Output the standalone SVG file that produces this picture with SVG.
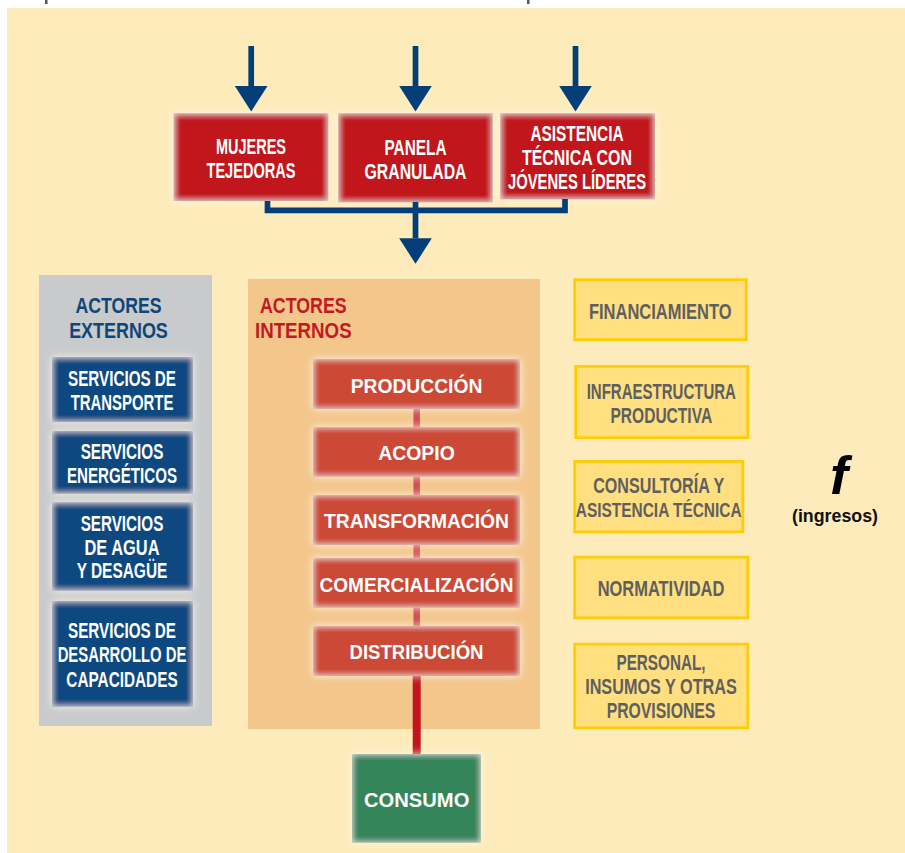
<svg xmlns="http://www.w3.org/2000/svg" width="905" height="853" viewBox="0 0 905 853">
<defs>
<style>
.cn{font-family:"Liberation Sans Narrow","Liberation Sans",Arial,sans-serif;font-weight:bold;font-size:22px;text-anchor:middle}
.rg{font-family:"Liberation Sans",Arial,sans-serif;font-weight:bold;font-size:21px;text-anchor:middle}
.w{fill:#ffffff}
.gy{fill:#5e5f61}
.red1{fill:#c1161f}
.red2{fill:#cc4a36}
.blue{fill:#0c4a80}
.green{fill:#34855a}
.ybox{fill:#ffdf80;stroke:#ffcc06;stroke-width:2.8}
.arrow{fill:none;stroke:#023f78;stroke-width:5.7}
</style>
<filter id="soft" x="-20%" y="-40%" width="140%" height="180%">
<feGaussianBlur in="SourceAlpha" stdDeviation="4" result="blur"/>
<feFlood flood-color="#fffaf0" flood-opacity="0.85"/>
<feComposite in2="blur" operator="in" result="halo"/>
<feGaussianBlur in="SourceAlpha" stdDeviation="3" result="b2"/>
<feComposite in="SourceAlpha" in2="b2" operator="out" result="edge"/>
<feFlood flood-color="#ffffff" flood-opacity="0.75"/>
<feComposite in2="edge" operator="in" result="inner"/>
<feMerge><feMergeNode in="halo"/><feMergeNode in="SourceGraphic"/><feMergeNode in="inner"/></feMerge>
</filter>
<marker id="ah" markerUnits="userSpaceOnUse" markerWidth="26" markerHeight="33" viewBox="0 -16.5 26 33" refX="0" refY="0" orient="auto">
<path d="M0,-16.3 L25.5,0 L0,16.3Z" fill="#023f78"/>
</marker>
</defs>

<rect x="0" y="0" width="905" height="853" fill="#ffffff"/>
<rect x="7" y="8" width="898" height="845" fill="#feebbb"/>
<rect x="45" y="0" width="2.5" height="4" fill="#555555"/>
<rect x="527" y="0" width="2.5" height="4" fill="#555555"/>

<g id="panel-externos">
<rect x="39" y="275" width="173" height="451" fill="#c8cacc"/>
<text class="cn" x="118.5" y="313" fill="#0f4678" textLength="86" lengthAdjust="spacingAndGlyphs">ACTORES</text>
<text class="cn" x="118.5" y="338.3" fill="#0f4678" textLength="98.7" lengthAdjust="spacingAndGlyphs">EXTERNOS</text>
</g>

<g id="panel-internos">
<rect x="248" y="279" width="292" height="450" fill="#f3c68c"/>
<text class="cn" x="303.3" y="313" fill="#c31a22" textLength="86.7" lengthAdjust="spacingAndGlyphs">ACTORES</text>
<text class="cn" x="303.3" y="338.3" fill="#c31a22" textLength="96.7" lengthAdjust="spacingAndGlyphs">INTERNOS</text>
</g>

<g id="mujeres">
<rect class="red1" x="173.7" y="113.3" width="154.6" height="87.7" filter="url(#soft)"/>
<text class="cn w" x="251" y="154" textLength="70" lengthAdjust="spacingAndGlyphs">MUJERES</text>
<text class="cn w" x="251" y="177.7" textLength="89" lengthAdjust="spacingAndGlyphs">TEJEDORAS</text>
</g>
<g id="panela">
<rect class="red1" x="338.3" y="113.3" width="154.4" height="89" filter="url(#soft)"/>
<text class="cn w" x="415.5" y="155" textLength="62" lengthAdjust="spacingAndGlyphs">PANELA</text>
<text class="cn w" x="415.5" y="179" textLength="102" lengthAdjust="spacingAndGlyphs">GRANULADA</text>
</g>
<g id="asistencia">
<rect class="red1" x="500.3" y="113.3" width="154.7" height="86" filter="url(#soft)"/>
<text class="cn w" x="577" y="140.7" textLength="93" lengthAdjust="spacingAndGlyphs">ASISTENCIA</text>
<text class="cn w" x="577" y="165" textLength="110" lengthAdjust="spacingAndGlyphs">TÉCNICA CON</text>
<text class="cn w" x="577" y="188.7" textLength="138" lengthAdjust="spacingAndGlyphs">JÓVENES LÍDERES</text>
</g>

<g id="transporte">
<rect class="blue" x="52" y="357" width="141" height="65" filter="url(#soft)"/>
<text class="cn w" x="122" y="386" textLength="108" lengthAdjust="spacingAndGlyphs">SERVICIOS DE</text>
<text class="cn w" x="122" y="410" textLength="102.7" lengthAdjust="spacingAndGlyphs">TRANSPORTE</text>
</g>
<g id="energeticos">
<rect class="blue" x="52" y="431" width="141" height="62.7" filter="url(#soft)"/>
<text class="cn w" x="122" y="459.3" textLength="82.7" lengthAdjust="spacingAndGlyphs">SERVICIOS</text>
<text class="cn w" x="122" y="482.7" textLength="110" lengthAdjust="spacingAndGlyphs">ENERGÉTICOS</text>
</g>
<g id="agua">
<rect class="blue" x="52" y="502.3" width="141" height="88.4" filter="url(#soft)"/>
<text class="cn w" x="122" y="530.7" textLength="82.7" lengthAdjust="spacingAndGlyphs">SERVICIOS</text>
<text class="cn w" x="122" y="555" textLength="75" lengthAdjust="spacingAndGlyphs">DE AGUA</text>
<text class="cn w" x="122" y="578.3" textLength="90.7" lengthAdjust="spacingAndGlyphs">Y DESAGÜE</text>
</g>
<g id="capacidades">
<rect class="blue" x="52" y="601" width="141" height="105.7" filter="url(#soft)"/>
<text class="cn w" x="122" y="638.3" textLength="108" lengthAdjust="spacingAndGlyphs">SERVICIOS DE</text>
<text class="cn w" x="122" y="662.3" textLength="128.7" lengthAdjust="spacingAndGlyphs">DESARROLLO DE</text>
<text class="cn w" x="122" y="686.7" textLength="111.3" lengthAdjust="spacingAndGlyphs">CAPACIDADES</text>
</g>

<g id="conn-process">
<line x1="416.7" y1="405" x2="416.7" y2="430" stroke="#d24c55" stroke-width="6.5"/>
<line x1="416.7" y1="472" x2="416.7" y2="498" stroke="#d24c55" stroke-width="6.5"/>
<line x1="416.7" y1="541" x2="416.7" y2="561" stroke="#d24c55" stroke-width="6.5"/>
<line x1="416.7" y1="603" x2="416.7" y2="629" stroke="#d24c55" stroke-width="6.5"/>
<line x1="416.7" y1="672" x2="416.7" y2="757" stroke="#c1161f" stroke-width="8"/>
</g>

<g id="produccion">
<rect class="red2" x="313" y="359" width="207" height="50" filter="url(#soft)"/>
<text class="rg w" x="416.5" y="393.3" textLength="131.7" lengthAdjust="spacingAndGlyphs">PRODUCCIÓN</text>
</g>
<g id="acopio">
<rect class="red2" x="313" y="427" width="207" height="49.7" filter="url(#soft)"/>
<text class="rg w" x="416.5" y="460" textLength="76.7" lengthAdjust="spacingAndGlyphs">ACOPIO</text>
</g>
<g id="transformacion">
<rect class="red2" x="313" y="495" width="207" height="50" filter="url(#soft)"/>
<text class="rg w" x="416.5" y="528.3" textLength="185" lengthAdjust="spacingAndGlyphs">TRANSFORMACIÓN</text>
</g>
<g id="comercializacion">
<rect class="red2" x="313" y="558" width="207" height="49.7" filter="url(#soft)"/>
<text class="rg w" x="416.5" y="591.7" textLength="194" lengthAdjust="spacingAndGlyphs">COMERCIALIZACIÓN</text>
</g>
<g id="distribucion">
<rect class="red2" x="313" y="626" width="207" height="50" filter="url(#soft)"/>
<text class="rg w" x="416.5" y="659.3" textLength="134" lengthAdjust="spacingAndGlyphs">DISTRIBUCIÓN</text>
</g>
<g id="consumo">
<rect class="green" x="352" y="754" width="129" height="88.7" filter="url(#soft)"/>
<text class="rg w" x="416.7" y="806.7" textLength="105.3" lengthAdjust="spacingAndGlyphs">CONSUMO</text>
</g>

<g id="financiamiento">
<rect class="ybox" x="574.7" y="279.7" width="171.6" height="60"/>
<text class="cn gy" x="660.3" y="319.3" textLength="142.7" lengthAdjust="spacingAndGlyphs">FINANCIAMIENTO</text>
</g>
<g id="infraestructura">
<rect class="ybox" x="575.7" y="366.4" width="172.2" height="71.2"/>
<text class="cn gy" x="661.3" y="399" textLength="149.3" lengthAdjust="spacingAndGlyphs">INFRAESTRUCTURA</text>
<text class="cn gy" x="661.3" y="423.3" textLength="101.7" lengthAdjust="spacingAndGlyphs">PRODUCTIVA</text>
</g>
<g id="consultoria">
<rect class="ybox" x="574.7" y="461.4" width="168.2" height="70.5"/>
<text class="cn gy" x="658.7" y="492.7" textLength="131" lengthAdjust="spacingAndGlyphs">CONSULTORÍA Y</text>
<text class="cn gy" x="658.7" y="516.7" font-size="20" style="font-size:20px" textLength="165.7" lengthAdjust="spacingAndGlyphs">ASISTENCIA TÉCNICA</text>
</g>
<g id="normatividad">
<rect class="ybox" x="574.7" y="557.1" width="173.2" height="60.8"/>
<text class="cn gy" x="661" y="596" textLength="126.7" lengthAdjust="spacingAndGlyphs">NORMATIVIDAD</text>
</g>
<g id="personal">
<rect class="ybox" x="574.7" y="644.1" width="173.2" height="83.8"/>
<text class="cn gy" x="661" y="670" textLength="89" lengthAdjust="spacingAndGlyphs">PERSONAL,</text>
<text class="cn gy" x="661" y="694.3" textLength="151.7" lengthAdjust="spacingAndGlyphs">INSUMOS Y OTRAS</text>
<text class="cn gy" x="661" y="718.3" textLength="108.7" lengthAdjust="spacingAndGlyphs">PROVISIONES</text>
</g>

<g id="ingresos">
<text x="839" y="494" font-family="'Liberation Sans',Arial,sans-serif" font-weight="bold" font-style="italic" font-size="54" text-anchor="middle" fill="#000000">f</text>
<text x="835" y="522" font-family="'Liberation Sans',Arial,sans-serif" font-weight="bold" font-size="18" text-anchor="middle" fill="#111111" textLength="86" lengthAdjust="spacingAndGlyphs">(ingresos)</text>
</g>

<g id="connectors">
<line class="arrow" x1="251.2" y1="46" x2="251.2" y2="86" marker-end="url(#ah)"/>
<line class="arrow" x1="415.5" y1="46" x2="415.5" y2="86" marker-end="url(#ah)"/>
<line class="arrow" x1="575.5" y1="46" x2="575.5" y2="86" marker-end="url(#ah)"/>
<path class="arrow" d="M267.5,201 V210.3 H565 V199"/>
<line class="arrow" x1="415.5" y1="202" x2="415.5" y2="238.3" marker-end="url(#ah)"/>
</g>
</svg>
